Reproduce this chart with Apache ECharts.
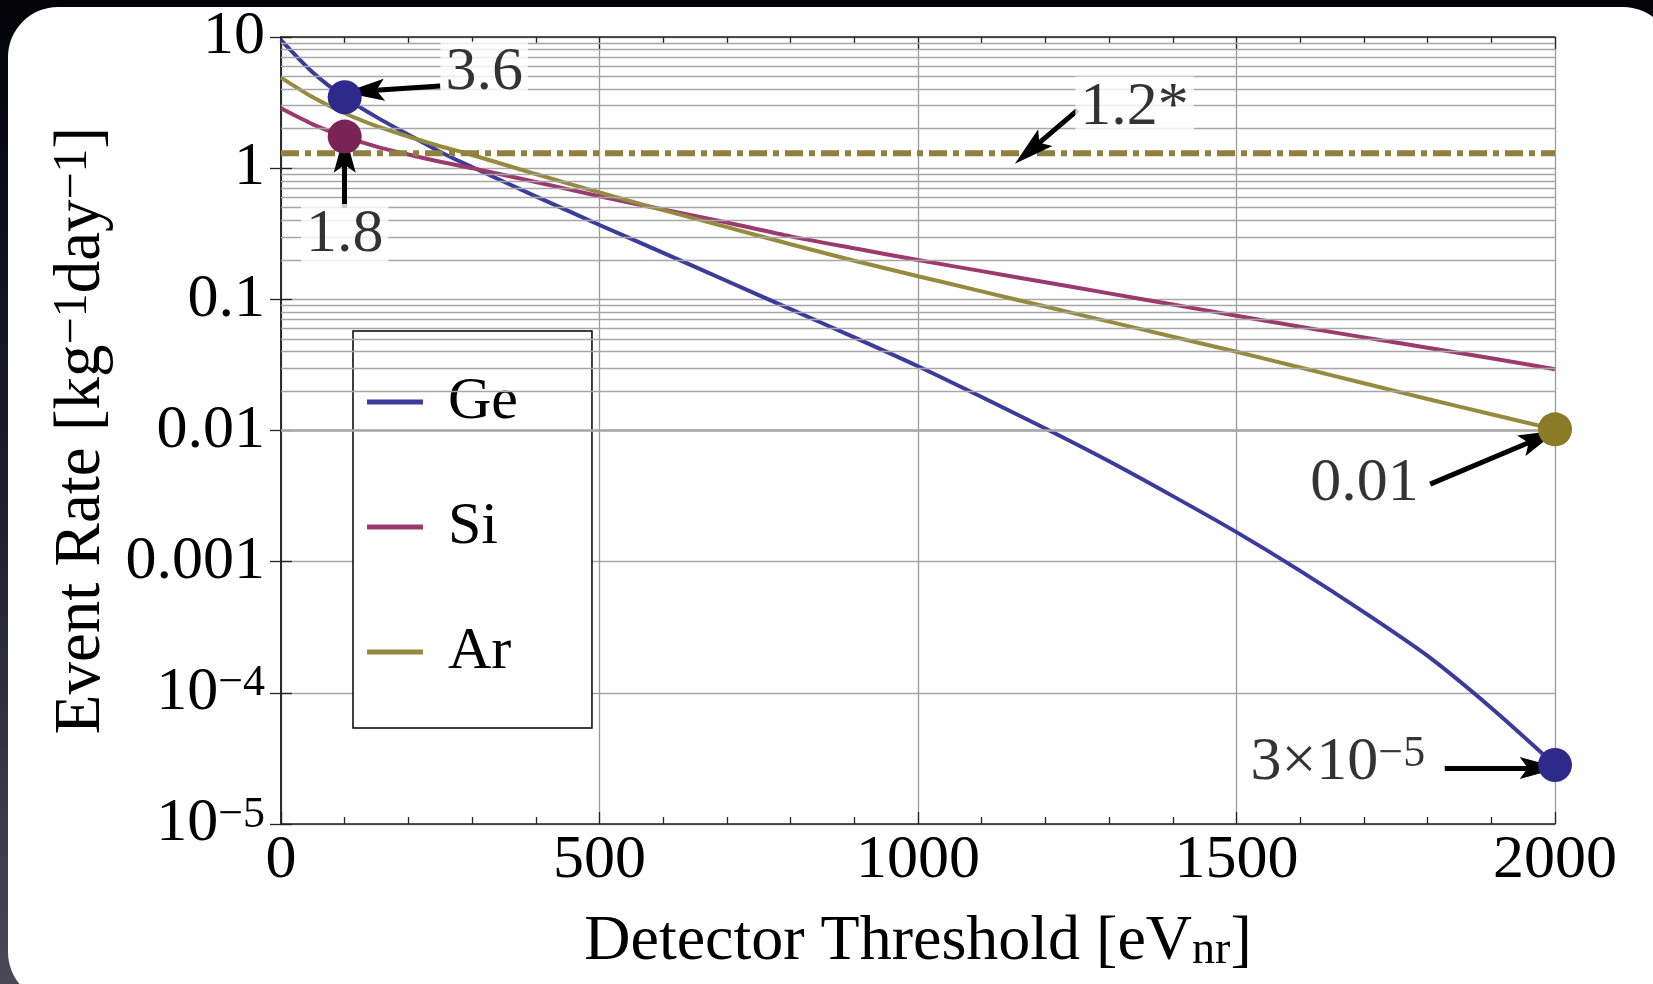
<!DOCTYPE html>
<html><head><meta charset="utf-8">
<script src="https://cdn.jsdelivr.net/npm/echarts@6/dist/echarts.min.js"></script>
<style>
html,body{margin:0;padding:0;width:1653px;height:984px;overflow:hidden;
background: linear-gradient(180deg,#020207 0%,#0b0b1a 18%,#222131 55%,#4a4856 100%);}
#card{position:absolute;left:8px;top:7px;width:1665px;height:995px;border-radius:50px;background:#fff;}
#chart{position:absolute;left:0;top:0;width:1653px;height:984px;}
</style></head><body><div id="card"></div><div id="chart"></div>
<script>
// ---- data ----
const thresholds = [0,50,100,150,200,250,300,400,500,600,700,800,900,1000,1100,1200,1300,1400,1500,1600,1700,1800,1900,2000];
const geRate = [9.48,5.37,3.47,2.45,1.80,1.33,1.02,0.61,0.369,0.226,0.138,0.0841,0.0513,0.0309,0.0180,0.01035,0.00582,0.00316,0.00168,0.000851,0.000412,0.000191,0.0000767,0.0000282];
const siRate = [2.86,2.16,1.74,1.46,1.27,1.12,1.00,0.785,0.61,0.484,0.385,0.302,0.245,0.1995,0.164,0.135,0.111,0.0912,0.075,0.0617,0.0513,0.0427,0.0355,0.0293];
const arRate = [4.90,3.47,2.62,2.09,1.74,1.47,1.26,0.902,0.653,0.479,0.355,0.263,0.197,0.150,0.115,0.0881,0.0676,0.0519,0.0398,0.0302,0.0229,0.0174,0.0133,0.0102];
const limitX = [0, 2000];
const limitRate = 1.3;
const geMarks = [[100, 3.47], [2000, 0.0000282]];
const siMarks = [[100, 1.74]];
const arMarks = [[2000, 0.0102]];
const noteText = ['3.6', '1.8', '1.2*', '0.01', '{m|3×10}{s|−5}'];
const notePos = [[319, 5.36], [100, 0.309], [1340, 2.90], [1701, 0.00394], [1659, 0.0000292]];
const arrowFrom = [[250, 4.23], [100, 0.497], [1251, 2.78], [1804, 0.0039], [1827, 0.0000267]];
const arrowTo   = [[131, 3.87], [100, 1.31], [1176, 1.36], [1976, 0.00877], [1976, 0.0000267]];
const yTickExp = [-5, -4, -3, -2, -1, 0, 1];
const yTickText = ['{m|10}{s|−5}', '{m|10}{s|−4}', '0.001', '0.01', '0.1', '1', '10'];
const minorMantissa = [2,3,4,5,6,7,8,9];
const decades = [-5,-4,-3,-2,-1,0];

const FONT = 'Liberation Serif';
const colors = {ge:'#3b3b9c', si:'#9c3a6f', ar:'#968a3e', geDot:'#2e2a8c', siDot:'#7a2355', arDot:'#8a7b27', lim:'#8f8040'};

const minorLines = [];
decades.forEach(d => minorMantissa.forEach(m => minorLines.push({yAxis: m * Math.pow(10, d)})));

const pair = (xs, ys) => xs.map((x, i) => [x, ys[i]]);
const txt = {color: '#000', textBorderWidth: 0, textShadowBlur: 0};
const supRich = {
  m: Object.assign({fontFamily: FONT, fontSize: 62, lineHeight: 62}, txt),
  s: Object.assign({fontFamily: FONT, fontSize: 44, lineHeight: 14, verticalAlign: 'top'}, txt)
};
const ARROW = 'path://M11,0 L22,40 L11,32 L0,40 Z';
const ARROW_SIZE = 40;

const chart = echarts.init(document.getElementById('chart'), null, {renderer: 'canvas'});
chart.setOption({
  animation: false,
  backgroundColor: 'transparent',
  grid: {left: 281, top: 37, right: 98, bottom: 160, containLabel: false},
  legend: {
    data: ['Ge', 'Si', 'Ar'],
    orient: 'vertical', left: 353, top: 331,
    backgroundColor: '#fff', borderColor: '#000', borderWidth: 1.5, borderRadius: 0,
    padding: [40, 74, 45, 14], itemGap: 63,
    icon: 'rect', itemWidth: 56, itemHeight: 5,
    textStyle: {fontFamily: FONT, fontSize: 60, lineHeight: 62, color: '#000', padding: [0, 0, 0, 20]},
    selectedMode: false
  },
  xAxis: [{
    type: 'value', min: 0, max: 2000, interval: 500, position: 'bottom',
    name: '{n|Detector Threshold [eV}{b|nr}{n|]}', nameLocation: 'middle', nameGap: 86,
    nameTextStyle: {rich: {
      n: Object.assign({fontFamily: FONT, fontSize: 64, lineHeight: 64}, txt),
      b: Object.assign({fontFamily: FONT, fontSize: 46, lineHeight: 16, verticalAlign: 'bottom'}, txt)
    }},
    axisLine: {show: true, lineStyle: {color: '#222', width: 1.5}},
    axisTick: {show: true, inside: true, length: 12, lineStyle: {color: '#222', width: 1.3}},
    minorTick: {show: true, splitNumber: 5, length: 7, lineStyle: {color: '#222', width: 1.3}},
    axisLabel: {fontFamily: FONT, fontSize: 62, color: '#000', margin: 6, formatter: v => String(v)},
    splitLine: {show: true, lineStyle: {color: '#9a9a9a', width: 1.3}}
  }, {
    type: 'value', min: 0, max: 2000, interval: 500, position: 'top',
    axisLine: {show: true, lineStyle: {color: '#222', width: 1.5}},
    axisTick: {show: true, inside: true, length: 12, lineStyle: {color: '#222', width: 1.3}},
    minorTick: {show: true, splitNumber: 5, length: 7, lineStyle: {color: '#222', width: 1.3}},
    axisLabel: {show: false}, splitLine: {show: false}
  }],
  yAxis: [{
    type: 'log', logBase: 10, min: 1e-5, max: 10, interval: 1, position: 'left',
    name: '{n|Event Rate [kg}{s|−1}{n|day}{s|−1}{n|]}', nameLocation: 'middle', nameGap: 166, nameRotate: 90,
    nameTextStyle: {rich: {
      n: Object.assign({fontFamily: FONT, fontSize: 65, lineHeight: 65}, txt),
      s: Object.assign({fontFamily: FONT, fontSize: 48, lineHeight: 10, verticalAlign: 'top'}, txt)
    }},
    axisLine: {show: true, lineStyle: {color: '#222', width: 1.5}},
    axisTick: {show: true, inside: true, length: 11, lineStyle: {color: '#222', width: 1.3}},
    axisLabel: {
      fontFamily: FONT, fontSize: 62, color: '#000', margin: 16, rich: supRich,
      formatter: v => {
        const e = Math.round(Math.log10(v));
        const i = yTickExp.indexOf(e);
        return i >= 0 ? yTickText[i] : '';
      }
    },
    splitLine: {show: true, lineStyle: {color: '#a6a6a6', width: 1.3}}
  }, {
    type: 'log', logBase: 10, min: 1e-5, max: 10, interval: 1, position: 'right',
    axisLine: {show: true, lineStyle: {color: '#222', width: 1.5}},
    axisTick: {show: true, inside: true, length: 11, lineStyle: {color: '#222', width: 1.3}},
    axisLabel: {show: false}, splitLine: {show: false}
  }],
  series: [
    {
      name: 'grid', type: 'line', data: [], silent: true, z: 1,
      markLine: {silent: true, symbol: ['none', 'none'], label: {show: false},
        lineStyle: {color: '#a6a6a6', width: 1.3, type: 'solid'}, data: minorLines, animation: false}
    },
    {name: 'Ge', type: 'line', data: pair(thresholds, geRate), smooth: 0.25, showSymbol: false, z: 3,
      lineStyle: {color: colors.ge, width: 4}, itemStyle: {color: colors.ge}},
    {name: 'Si', type: 'line', data: pair(thresholds, siRate), smooth: 0.25, showSymbol: false, z: 3,
      lineStyle: {color: colors.si, width: 4}, itemStyle: {color: colors.si}},
    {name: 'Ar', type: 'line', data: pair(thresholds, arRate), smooth: 0.25, showSymbol: false, z: 3,
      lineStyle: {color: colors.ar, width: 4}, itemStyle: {color: colors.ar}},
    {name: 'limit', type: 'line', data: limitX.map(x => [x, limitRate]), showSymbol: false, z: 4,
      lineStyle: {color: colors.lim, width: 6, type: [18, 6, 6, 6], cap: 'butt'}},
    {name: 'GeDots', type: 'scatter', data: geMarks, symbolSize: 34, z: 8, itemStyle: {color: colors.geDot, opacity: 1}},
    {name: 'SiDots', type: 'scatter', data: siMarks, symbolSize: 34, z: 8, itemStyle: {color: colors.siDot, opacity: 1}},
    {name: 'ArDots', type: 'scatter', data: arMarks, symbolSize: 34, z: 8, itemStyle: {color: colors.arDot, opacity: 1}},
    {
      name: 'notes', type: 'scatter', z: 7, symbolSize: 0, silent: true,
      itemStyle: {color: '#000'},
      data: notePos.map((p, i) => ({value: p, name: String(i)})),
      label: Object.assign({
        show: true, position: 'inside', fontFamily: FONT, fontSize: 62, lineHeight: 62,
        backgroundColor: '#fff', padding: [0, 5], rich: supRich,
        formatter: p => noteText[p.dataIndex]
      }, txt),
      markLine: {
        silent: true, symbol: ['none', ARROW], symbolSize: ARROW_SIZE, symbolKeepAspect: true,
        symbolOffset: [-ARROW_SIZE / 2, 0],
        label: {show: false},
        lineStyle: {color: '#000', width: 5, type: 'solid'},
        itemStyle: {color: '#000'},
        data: arrowFrom.map((a, i) => [{coord: a}, {coord: arrowTo[i]}]),
        animation: false
      }
    }
  ]
});
</script></body></html>
